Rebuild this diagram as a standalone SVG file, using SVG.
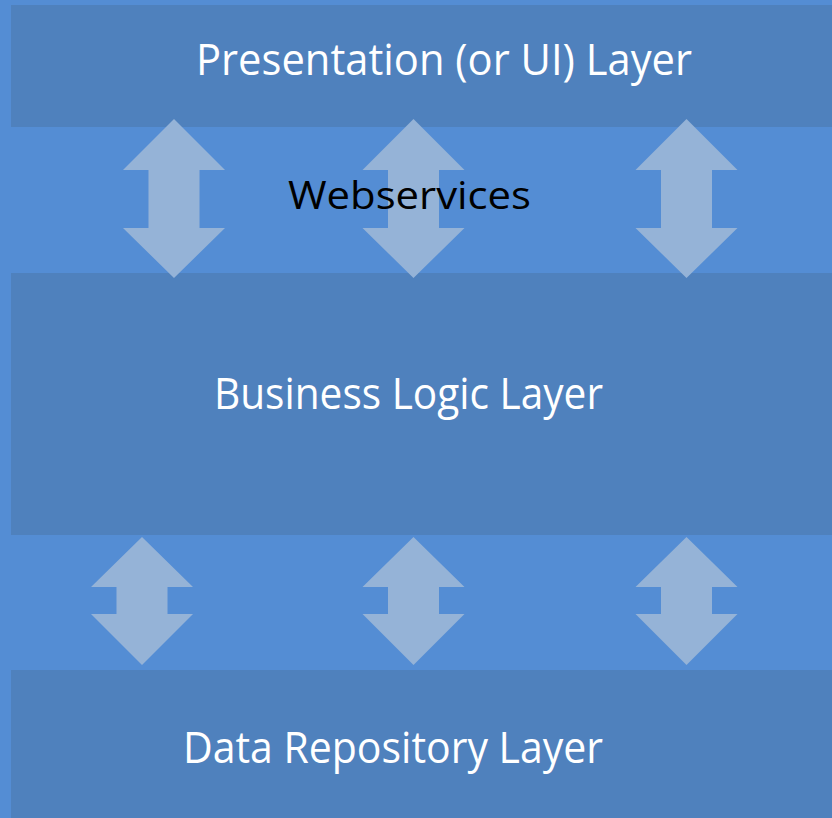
<svg xmlns="http://www.w3.org/2000/svg" width="832" height="818" viewBox="0 0 832 818">
  <defs>
    <style>
      .band { fill: #4f81bd; }
      .arrow { fill: #95b3d7; }
      .lbl { font-family: "Open Sans", "Noto Sans", "Liberation Sans", sans-serif; fill: #ffffff; }
      .lbl-dark { font-family: "Open Sans", "Noto Sans", "Liberation Sans", sans-serif; fill: #000000; }
    </style>
  </defs>
  <rect x="0" y="0" width="832" height="818" fill="#548dd4"/>

  <g id="presentation-layer">
    <rect class="band" x="11" y="5" width="821" height="122"/>
    <text class="lbl" x="196" y="75" font-size="44" textLength="496" lengthAdjust="spacingAndGlyphs">Presentation (or UI) Layer</text>
  </g>

  <g id="business-logic-layer">
    <rect class="band" x="11" y="273" width="821" height="262"/>
    <text class="lbl" x="214" y="409" font-size="43" textLength="389" lengthAdjust="spacingAndGlyphs">Business Logic Layer</text>
  </g>

  <g id="data-repository-layer">
    <rect class="band" x="11" y="670" width="821" height="148"/>
    <text class="lbl" x="183" y="763" font-size="43" textLength="420" lengthAdjust="spacingAndGlyphs">Data Repository Layer</text>
  </g>

  <g id="connectors">
    <!-- top arrows: tip 119, head base 170, lower head base 228, tip 278 -->
    <polygon class="arrow" points="174,119 225,170 199.5,170 199.5,228 225,228 174,278 123,228 148.5,228 148.5,170 123,170"/>
    <polygon class="arrow" points="413.5,119 464.5,170 439,170 439,228 464.5,228 413.5,278 362.5,228 388,228 388,170 362.5,170"/>
    <polygon class="arrow" points="686.5,119 737.5,170 712,170 712,228 737.5,228 686.5,278 635.5,228 661,228 661,170 635.5,170"/>
    <!-- bottom arrows: tip 537, head base 587, lower head base 614, tip 665 -->
    <polygon class="arrow" points="142,537 193,587 167.5,587 167.5,614 193,614 142,665 91,614 116.5,614 116.5,587 91,587"/>
    <polygon class="arrow" points="413.5,537 464.5,587 439,587 439,614 464.5,614 413.5,665 362.5,614 388,614 388,587 362.5,587"/>
    <polygon class="arrow" points="686.5,537 737.5,587 712,587 712,614 737.5,614 686.5,665 635.5,614 661,614 661,587 635.5,587"/>
  </g>

  <g id="webservices">
    <text class="lbl-dark" x="288" y="209" font-size="38" textLength="243" lengthAdjust="spacingAndGlyphs">Webservices</text>
  </g>
</svg>
